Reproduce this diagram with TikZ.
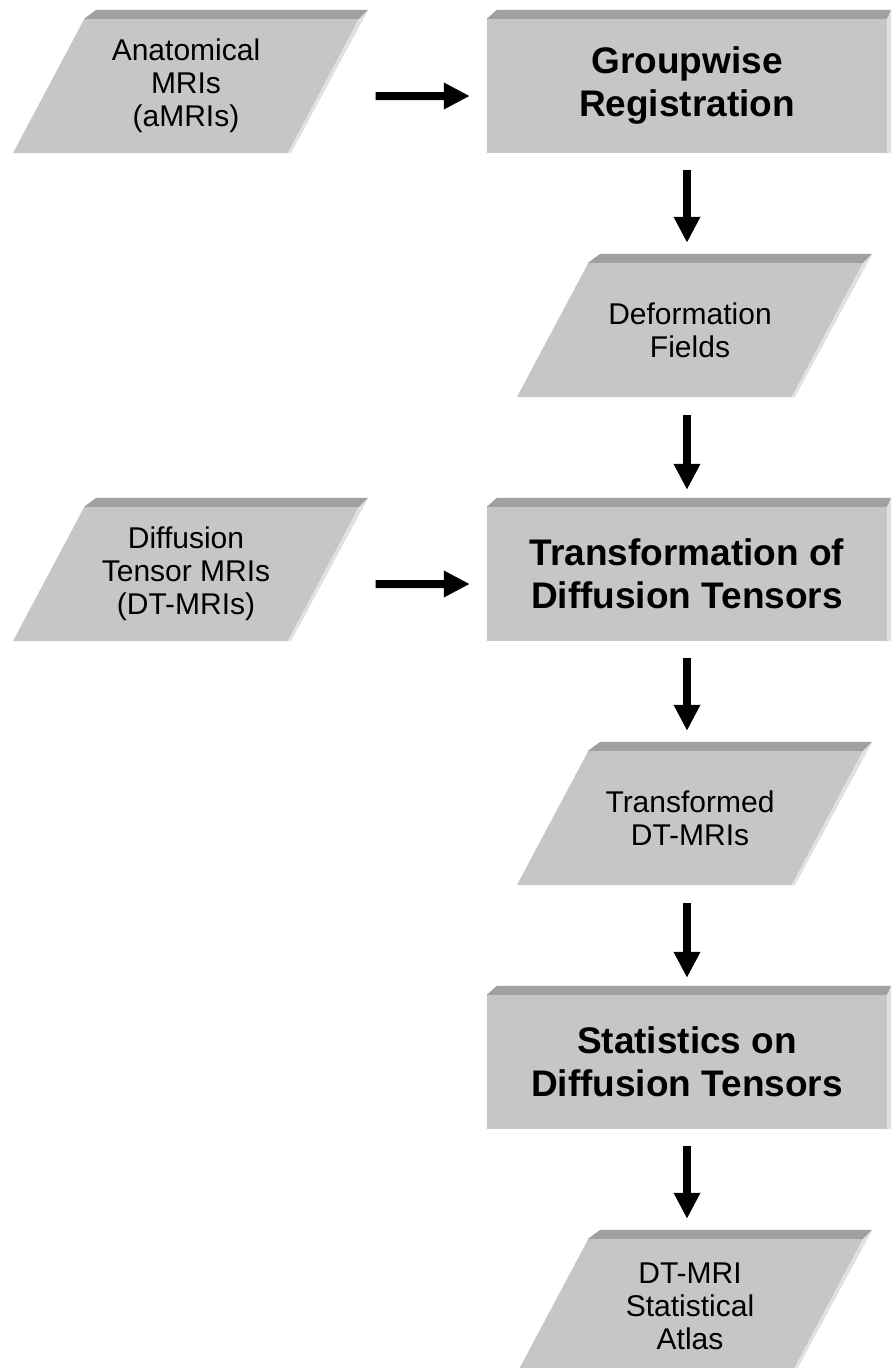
\documentclass[tikz,border=0pt]{standalone}
\usepackage{fontspec}
\setmainfont{Liberation Sans}
\usetikzlibrary{positioning,shapes.geometric,arrows.meta}
\definecolor{facegray}{HTML}{C6C6C6}
\definecolor{bandgray}{HTML}{A0A0A0}
\definecolor{edgegray}{HTML}{E0E0E0}
\tikzset{
  datanode/.style={shape=trapezium, trapezium left angle=62, trapezium right angle=118,
    trapezium stretches body, minimum width=346pt, inner sep=0pt, fill=facegray,
    font=\fontsize{30}{33}\selectfont,
    execute at begin node={\begin{minipage}[c][134pt][c]{200pt}\centering},
    execute at end node={\end{minipage}}},
  procnode/.style={rectangle, minimum width=400pt, minimum height=134pt, inner sep=0pt,
    fill=facegray, align=center, font=\fontsize{37}{43}\selectfont\bfseries},
  flow/.style={line width=8pt, -{Triangle[length=26pt,width=25pt]}}
}

\begin{document}
\begin{tikzpicture}[x=1pt,y=-1pt]
  \useasboundingbox (0,0) rectangle (892,1368);
  \node[datanode] (amri) at (186,86) {Anatomical\\MRIs\\(aMRIs)};
  \node[procnode] (group) at (687,86) {Groupwise\\Registration};
  \node[datanode] (deform) at (690,330) {Deformation\\Fields};
  \node[datanode] (dtmri) at (186,574) {Diffusion\\Tensor MRIs\\(DT-MRIs)};
  \node[procnode] (transf) at (687,574) {Transformation of\\Diffusion Tensors};
  \node[datanode] (tdtmri) at (690,818) {Transformed\\DT-MRIs};
  \node[procnode] (stats) at (687,1062) {Statistics on\\Diffusion Tensors};
  \node[datanode] (atlas) at (690,1306) {DT-MRI\\Statistical\\Atlas};

  \foreach \n in {amri,deform,dtmri,tdtmri,atlas} {
    \fill[bandgray] (\n.top left corner) -- ++(12,-9) -- ([shift={(9,-9)}]\n.top right corner) -- (\n.top right corner) -- cycle;
    \fill[edgegray] (\n.top right corner) -- ([shift={(9,-9)}]\n.top right corner) -- ([shift={(3,0)}]\n.bottom right corner) -- (\n.bottom right corner) -- cycle;
  }
  \foreach \n in {group,transf,stats} {
    \fill[bandgray] (\n.north west) -- ++(10,-9) -- ([shift={(4,-9)}]\n.north east) -- (\n.north east) -- cycle;
    \fill[edgegray] (\n.north east) -- ([shift={(4,-9)}]\n.north east) -- ([shift={(4,0)}]\n.south east) -- (\n.south east) -- cycle;
  }

  \draw[flow, shorten <=52pt, shorten >=17pt] ([yshift=-10pt]amri.east) -- ([yshift=-10pt]group.west);
  \draw[flow, shorten <=52pt, shorten >=17pt] ([yshift=-10pt]dtmri.east) -- ([yshift=-10pt]transf.west);
  \draw[flow, shorten <=17pt, shorten >=20pt] (group.south) -- (group.south |- deform.north);
  \draw[flow, shorten <=18pt, shorten >=17pt] (deform.south -| transf.north) -- (transf.north);
  \draw[flow, shorten <=17pt, shorten >=20pt] (transf.south) -- (transf.south |- tdtmri.north);
  \draw[flow, shorten <=18pt, shorten >=17pt] (tdtmri.south -| stats.north) -- (stats.north);
  \draw[flow, shorten <=17pt, shorten >=20pt] (stats.south) -- (stats.south |- atlas.north);
\end{tikzpicture}
\end{document}
